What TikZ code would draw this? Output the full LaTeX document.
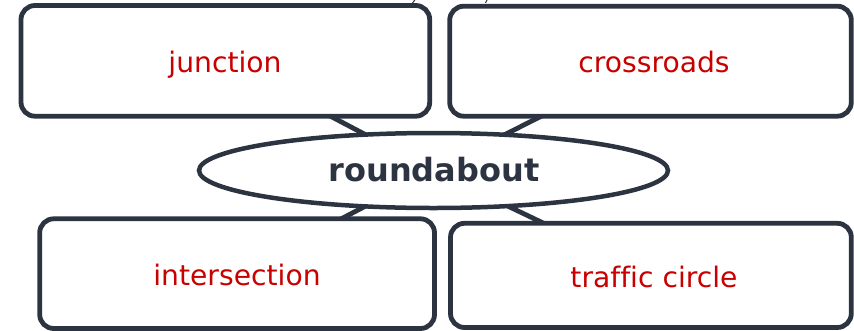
\documentclass[tikz,border=0pt]{standalone}
\usepackage{fontspec}
\setmainfont{DejaVu Sans}[Ligatures=NoCommon]
\usetikzlibrary{shapes.geometric}
\definecolor{ink}{RGB}{45,52,65}
\definecolor{lab}{RGB}{200,0,0}
\begin{document}
\begin{tikzpicture}[x=1pt,y=-1pt,
  boxline/.style={draw=ink,line width=4.8pt,rounded corners=14pt,fill=white},
  conn/.style={draw=ink,line width=4.8pt},
  thinconn/.style={draw=ink,line width=1pt},
  lbl/.style={text=lab,font=\fontsize{28.2}{30}\selectfont,anchor=base,inner sep=0pt},
  hub/.style={ellipse,draw=ink,line width=4.5pt,fill=white,minimum width=469pt,minimum height=75pt,inner sep=0pt}]
\useasboundingbox (0,0) rectangle (854,330);
\clip (0,0) rectangle (854,330);
% named centres
\coordinate (cTL) at (225.8,61);
\coordinate (cTR) at (650.5,61.2);
\coordinate (cBL) at (237,273.4);
\coordinate (cBR) at (650.9,274.6);
\coordinate (cH) at (433.5,170.5);
% thin connector stubs at top edge
\coordinate (s1a) at (412.5,3);
\coordinate (s1b) at (415.5,-1);
\coordinate (s2a) at (485.5,3);
\coordinate (s2b) at (487.5,-1);
\draw[thinconn] (s1a) -- (s1b);
\draw[thinconn] (s2a) -- (s2b);
% connectors
\draw[conn] (cH) -- (cTL);
\draw[conn] (cH) -- (cTR);
\draw[conn] (cH) -- (cBL);
\draw[conn] (cH) -- (cBR);
% boxes
\path[boxline] (21,5.5) rectangle (429.7,116.2);
\path[boxline] (449.7,6.2) rectangle (851.3,116.2);
\path[boxline] (39.7,218.8) rectangle (434.5,328.5);
\path[boxline] (450.5,223.3) rectangle (851.3,327.5);
% hub
\node[hub] (hub) at (cH) {};
\node[text=ink,font=\fontsize{32}{34}\selectfont\bfseries,anchor=base,inner sep=0pt] (hubtxt) at (434,181.7) {roundabout};
% labels
\node[lbl] (tJ) at (225,72.7) {junction};
\node[lbl] (tC) at (654,72.7) {crossroads};
\node[lbl] (tI) at (237,285.5) {intersection};
\node[lbl] (tT) at (654,287.5) {traffic circle};
\end{tikzpicture}
\end{document}
